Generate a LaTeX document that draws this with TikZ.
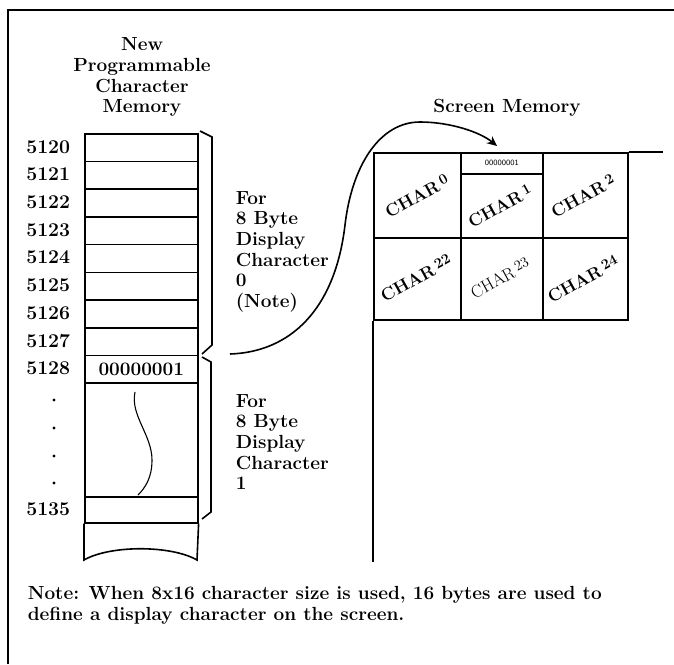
\documentclass[tikz,border=0pt]{standalone}
\usepackage{fontspec}
\usetikzlibrary{arrows.meta}
\begin{document}
\begin{tikzpicture}[x=1pt,y=-1pt,line width=1.6pt,
  lbl/.style={font=\fontsize{19}{20.6}\selectfont\bfseries, inner sep=0pt},
  addr/.style={lbl, font=\fontsize{19.5}{20.6}\selectfont\bfseries, anchor=east},
  cell/.style={draw, line width=1.6pt, inner sep=0pt, anchor=north west},
  charlbl/.style={font=\fontsize{17.5}{20}\selectfont\bfseries, rotate=29, inner sep=0pt},
  smallbyte/.style={font=\fontsize{8}{9}\selectfont\sffamily, inner sep=0pt},
  conn/.style={line width=1.6pt, -{Stealth[length=10pt,width=9pt]}},
]
\useasboundingbox (0,0) rectangle (674,664);
% frame
\draw[line width=1.8pt] (8,664) -- (8,10) -- (674,10);

% title
\node[lbl, anchor=north, align=center] (title) at (142,37)
  {New\\Programmable\\Character\\Memory};

% memory rows 5120..5127
\foreach \i/\n in {0/5120,1/5121,2/5122,3/5123,4/5124,5/5125,6/5126,7/5127}{
  \node[cell, minimum width=113pt, minimum height=27.7pt] (r\i) at (84,{133+27.7*\i}) {};
  \node[addr] (a\i) at (71,{146.8+27.7*\i}) {\n};
}
\node[cell, minimum width=113pt, minimum height=27.4pt] (r8) at (84,354.6) {};
\node[lbl] (b8) at (r8.center) {00000001};
\node[addr] (a8) at (71,368.3) {5128};
\node[cell, minimum width=113pt, minimum height=114pt] (r9) at (84,382) {};
\node[cell, minimum width=113pt, minimum height=26pt] (r10) at (84,496) {};
\node[addr] (a10) at (71,509) {5135};
\foreach \k/\y in {1/400,2/428,3/456,4/483}{
  \fill (54,\y) circle (1.6pt);
}
% wavy line inside
\draw[line width=1.1pt] (135,392) .. controls (130,415) and (152,435) .. (152,460)
  .. controls (152,478) and (145,488) .. (138,495);
% torn tail
\draw (r10.south west) -- (84,560) .. controls (110,545) and (171,545) .. (197,560) -- (r10.south east);

% braces
\draw (200,131) -- (212,137) -- (212,345) -- (202,354);
\draw (202,357) -- (211,362) -- (211,512) -- (202,519);

% brace texts
\node[lbl, anchor=north west, align=left] (t0) at (235,190.5)
  {For\\8 Byte\\Display\\Character\\0\\(Note)};
\node[lbl, anchor=north west, align=left] (t1) at (235,393.5)
  {For\\8 Byte\\Display\\Character\\1};

% screen memory
\node[lbl, anchor=base] (sm) at (507,112) {Screen Memory};
\node[cell, minimum width=87pt, minimum height=85pt] (c0) at (373,152) {};
\node[cell, minimum width=82pt, minimum height=85pt] (c1) at (460,152) {};
\node[cell, minimum width=85pt, minimum height=85pt] (c2) at (542,152) {};
\node[cell, minimum width=87pt, minimum height=82pt] (c22) at (373,237) {};
\node[cell, minimum width=82pt, minimum height=82pt] (c23) at (460,237) {};
\node[cell, minimum width=85pt, minimum height=82pt] (c24) at (542,237) {};
\node[cell, minimum width=82pt, minimum height=21pt] (byte) at (460,152) {};
\node[smallbyte] (bytet) at (byte.center) {00000001};
\draw (c2.north east) -- (663,152);
\draw (c22.south west) -- (373,562);

\newcommand{\chr}[1]{CHAR\,\raisebox{.22em}{\fontsize{14.5}{15}\selectfont #1}}
\node[charlbl] (l0) at (417,196) {\chr{0}};
\node[charlbl] (l1) at (500,206) {\chr{1}};
\node[charlbl] (l2) at (583,196) {\chr{2}};
\node[charlbl] (l22) at (416,278) {\chr{22}};
\node[charlbl, font=\fontsize{17.5}{20}\selectfont\mdseries] (l23) at (500,278) {\chr{23}};
\node[charlbl] (l24) at (583,279) {\chr{24}};

% connector
\coordinate (s) at (230,354);
\coordinate (e) at (497,146);
\draw[conn] (s) .. controls (290,352) and (335,310) .. (345,225)
  .. controls (352,165) and (380,122) .. (420,122)
  .. controls (450,122) and (480,132) .. (e);

% note
\node[lbl, anchor=north west, align=left] (note) at (27,586)
  {Note: When 8x16 character size is used, 16 bytes are used to\\define a display character on the screen.};
\end{tikzpicture}
\end{document}
